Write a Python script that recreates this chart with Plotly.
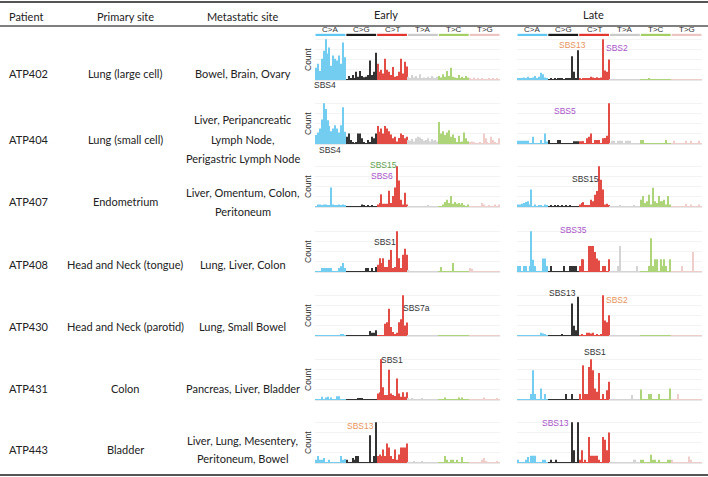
import plotly.graph_objects as go

W, H = 708, 477

patients = ["ATP402", "ATP404", "ATP407", "ATP408", "ATP430", "ATP431", "ATP443"]
primary_sites = ["Lung (large cell)", "Lung (small cell)", "Endometrium", "Head and Neck (tongue)",
                 "Head and Neck (parotid)", "Colon", "Bladder"]
metastatic_sites = [["Bowel, Brain, Ovary"],
                    ["Liver, Peripancreatic", "Lymph Node,", "Perigastric Lymph Node"],
                    ["Liver, Omentum, Colon,", "Peritoneum"],
                    ["Lung, Liver, Colon"],
                    ["Lung, Small Bowel"],
                    ["Pancreas, Liver, Bladder"],
                    ["Liver, Lung, Mesentery,", "Peritoneum, Bowel"]]
mut_types = ["C>A", "C>G", "C>T", "T>A", "T>C", "T>G"]
strip_colors = ["#5EC8F2", "#1a1a1a", "#E2362F", "#CACACA", "#A3CF65", "#ECC5C3"]
bar_palette = ["#72CDF1", "#333333", "#E24C45", "#D4D4D4", "#AED47A", "#EFCDCB"]

# relative counts, 96 channels (6 mutation types x 16 trinucleotide contexts)
atp402_early = ([30,40,22,52,72,100,65,80,35,60,52,48,60,40,92,56] + [2,10,4,12,4,20,8,22,10,7,8,12,48,12,20,67] +
                [40,20,25,16,52,25,20,12,32,8,10,20,52,16,45,33] + [8,5,12,6,10,4,14,5,6,3,8,4,10,6,5,8] +
                [10,6,14,8,22,10,30,8,6,4,12,5,8,3,10,6] + [3,2,6,2,4,1,3,2,2,1,4,1,3,1,5,2])
atp402_late = ([4,3,5,6,3,8,5,4,6,10,5,8,18,14,6,3] + [2,3,1,3,2,3,4,3,2,4,3,4,58,20,5,73] +
               [3,2,4,3,5,4,8,6,4,7,5,6,100,23,20,50] + [2,1,2,1,2,1,1,2,1,1,2,1,1,2,1,1] +
               [1,2,1,1,3,1,2,1,1,1,1,2,1,1,1,1] + [1,1,1,2,1,1,1,1,1,2,1,1,1,1,1,2])
atp404_early = ([22,28,38,60,100,86,58,44,31,38,46,38,28,46,90,30] + [18,26,10,3,2,4,26,26,14,3,2,10,4,18,14,26] +
                [44,30,38,26,44,38,31,23,14,18,6,15,26,22,14,18] + [10,8,12,6,14,18,16,12,8,10,14,6,12,8,10,6] +
                [54,26,31,22,28,34,18,23,15,5,20,4,6,28,14,7] + [4,6,3,2,2,3,2,26,14,3,2,18,10,3,2,14])
atp404_late = ([8,8,8,8,8,8,2,2,18,2,2,2,10,2,26,6] + [10,2,2,2,2,10,10,2,1,2,2,2,2,7,7,7] +
               [7,7,7,2,14,18,26,2,10,10,10,2,14,15,20,100] + [2,8,8,2,8,8,8,2,8,8,8,2,2,2,2,2] +
               [10,10,2,2,2,2,2,2,2,2,2,2,2,10,2,2] + [2,8,2,2,2,2,2,8,2,2,8,2,2,2,8,2])
atp407_early = ([2,6,6,3,6,6,3,3,48,6,4,4,6,4,6,4] + [1,1,1,1,1,1,1,1,6,4,1,4,1,3,1,2] +
                [6,10,31,8,8,8,40,10,27,48,100,65,18,6,35,6] + [2,1,1,2,1,1,1,1,1,1,3,1,1,1,1,1] +
                [2,2,6,12,18,10,27,8,12,8,10,6,10,4,2,6] + [1,1,1,1,1,1,10,6,1,1,3,1,1,6,1,6])
atp407_late = ([6,6,8,10,12,14,6,43,2,6,2,4,4,2,6,4] + [1,3,1,3,1,3,1,3,1,3,1,3,1,2,1,2] +
               [6,10,12,5,4,4,18,14,30,39,100,67,43,6,8,4] + [1,1,1,1,1,3,1,1,1,1,1,1,3,1,1,1] +
               [18,27,10,14,30,6,47,14,10,27,14,14,18,6,27,6] + [1,1,1,1,1,1,1,8,1,1,6,1,1,1,6,1])
atp408_early = ([1,1,1,10,10,10,10,10,10,1,1,1,10,14,22,10] + [1,1,1,1,1,1,1,1,1,1,10,10,1,10,1,12] +
                [18,34,22,34,12,12,30,54,10,12,100,34,10,42,57,42] + [4,1,1,1,1,1,1,1,1,1,1,1,1,1,1,1] +
                [1,12,1,1,1,1,1,22,1,1,1,1,1,1,1,1] + [10,8,1,1,1,1,1,1,1,1,1,1,1,1,1,1])
atp408_late = ([15,15,1,15,15,1,15,100,30,15,1,1,1,33,33,15] + [1,15,1,1,1,1,1,1,15,1,1,15,15,15,15,1] +
               [15,31,31,1,1,64,64,64,49,33,28,1,15,15,1,31] + [1,1,1,1,15,64,1,1,1,1,1,1,1,1,15,1] +
               [1,1,1,1,15,83,15,31,31,1,31,15,31,15,1,31] + [1,1,1,1,1,15,1,1,1,1,1,49,1,1,1,1])
atp430_early = ([2,2,2,2,2,2,2,2,2,2,2,2,2,5,4,2] + [1,1,1,1,1,1,1,1,1,1,1,1,12,8,8,14] +
                [2,2,2,2,30,34,67,22,10,4,8,34,41,100,26,33] + [1,1,1,1,1,1,1,1,1,1,1,1,1,1,1,1] +
                [1,1,2,1,1,1,1,1,1,2,1,1,1,1,1,1] + [1,1,1,1,1,1,1,1,1,1,1,1,1,1,1,1])
atp430_late = ([1,1,1,1,1,1,1,1,1,1,1,1,8,6,3,1] + [1,1,1,1,1,1,1,3,1,1,2,1,80,25,14,96] +
               [1,3,1,1,8,8,6,8,1,3,1,3,100,38,34,51] + [1,1,1,1,1,1,1,1,1,1,1,1,1,1,1,1] +
               [1,1,1,1,1,1,1,1,1,1,1,1,1,1,1,1] + [1,1,1,1,1,1,1,1,1,1,1,1,1,1,1,1])
atp431_early = ([1,1,1,8,1,6,8,1,6,1,1,9,9,1,1,1] + [1,1,1,1,1,1,3,3,3,1,1,1,1,1,1,1] +
                [16,19,100,31,12,12,74,16,12,10,53,16,8,19,8,19] + [3,1,3,1,1,1,1,3,1,1,1,1,1,1,1,1] +
                [1,1,1,6,1,1,1,1,1,1,6,1,6,1,1,1] + [1,1,1,1,1,1,1,6,1,1,1,1,1,1,4,1])
atp431_late = ([1,1,1,1,1,1,1,15,73,15,1,1,28,1,15,1] + [1,1,1,1,1,1,1,1,1,15,1,1,15,1,1,1] +
               [15,2,85,15,15,81,100,73,28,20,66,1,15,1,24,45] + [1,1,1,1,1,1,1,1,1,1,1,12,1,1,1,1] +
               [26,1,1,1,15,15,1,1,1,15,1,1,1,1,1,28] + [1,1,1,15,1,1,1,1,1,1,1,1,1,1,1,1])
atp443_early = ([8,17,8,8,12,1,1,8,1,1,1,1,1,17,8,10] + [8,1,1,12,8,17,17,1,1,1,1,1,68,1,17,100] +
                [17,21,17,33,17,48,38,17,10,33,8,21,38,38,38,48] + [2,1,1,4,1,1,1,4,1,1,1,1,1,1,1,1] +
                [1,1,1,17,8,1,8,8,1,8,1,1,15,1,1,1] + [1,1,1,1,1,1,8,12,4,1,1,1,1,1,4,1])
atp443_late = ([8,1,1,1,8,15,1,18,18,18,1,1,1,8,8,1] + [1,8,1,1,8,1,1,1,1,1,1,1,100,31,1,100] +
               [8,31,1,8,1,64,18,18,18,18,8,1,64,57,31,75] + [1,1,1,1,1,1,1,1,1,1,1,1,8,8,1,1] +
               [8,8,1,1,1,20,8,8,1,8,1,1,1,1,8,8] + [8,1,1,1,1,1,1,1,1,16,8,1,1,1,1,1])

early_series = [atp402_early, atp404_early, atp407_early, atp408_early, atp430_early, atp431_early, atp443_early]
late_series = [atp402_late, atp404_late, atp407_late, atp408_late, atp430_late, atp431_late, atp443_late]

# signature labels: (row, panel, text, color, x_px, y_px)
sig_labels = [
    (0, "early", "SBS4", "#333333", 325, 85),
    (0, "late", "SBS13", "#E8935A", 572, 45),
    (0, "late", "SBS2", "#A855C8", 617, 48),
    (1, "early", "SBS4", "#333333", 330, 150),
    (1, "late", "SBS5", "#A855C8", 565, 111),
    (2, "early", "SBS15", "#5E9E4F", 383, 165),
    (2, "early", "SBS6", "#A855C8", 382, 176.5),
    (2, "late", "SBS15", "#333333", 585, 179),
    (3, "early", "SBS1", "#333333", 385, 242),
    (3, "late", "SBS35", "#A855C8", 573, 230),
    (4, "early", "SBS7a", "#333333", 416, 308),
    (4, "late", "SBS13", "#333333", 562, 293),
    (4, "late", "SBS2", "#E8935A", 617, 300),
    (5, "early", "SBS1", "#333333", 392, 360),
    (5, "late", "SBS1", "#333333", 595, 352),
    (6, "early", "SBS13", "#E8935A", 360, 426),
    (6, "late", "SBS13", "#A855C8", 555, 423),
]

# ---- geometry (pixels) ----
def px(x):
    return x / W

def py(y):
    return 1 - y / H

row_center = [73, 139, 201, 264, 326, 388, 449]
meta_lines_y = [[73], [120, 139, 158], [192, 211], [264], [326], [388], [440, 458]]
baselines = [80, 144, 207, 272, 336, 400, 463]
plot_h = 42
early_x = (315, 500)
late_x = (517, 702)

bar_colors = []
for c in bar_palette:
    bar_colors += [c] * 16

fig = go.Figure()
layout = dict(width=W, height=H, margin=dict(l=0, r=0, t=0, b=0),
              paper_bgcolor="white", plot_bgcolor="white", showlegend=False, bargap=0.45)

k = 0
for r in range(7):
    for panel, series, (x0, x1) in (("early", early_series, early_x), ("late", late_series, late_x)):
        k += 1
        sfx = "" if k == 1 else str(k)
        fig.add_trace(go.Bar(x=list(range(96)), y=series[r][:], marker=dict(color=bar_colors, line=dict(width=0)),
                             xaxis="x" + sfx, yaxis="y" + sfx, hoverinfo="y"))
        b = baselines[r]
        layout["xaxis" + sfx] = dict(domain=[px(x0), px(x1)], range=[-0.5, 95.5], showticklabels=False,
                                     showgrid=False, zeroline=False, showline=True, linecolor="#e8e8e8",
                                     linewidth=1, anchor="y" + sfx, fixedrange=True)
        layout["yaxis" + sfx] = dict(domain=[py(b), py(b - plot_h)], range=[0, 103], showticklabels=False,
                                     showgrid=True, gridcolor="#f3f3f3", gridwidth=1, dtick=25, zeroline=False,
                                     anchor="x" + sfx, fixedrange=True)

annotations = []
shapes = []

def txt(x, y, s, size=11, color="#222222", family="Lato", xanchor="center", angle=0):
    annotations.append(dict(x=px(x), y=py(y), xref="paper", yref="paper", text=s, showarrow=False,
                            xanchor=xanchor, yanchor="middle", textangle=angle,
                            font=dict(size=size, color=color, family=family)))

# table lines
for y, w in ((2, 2), (26, 1.5), (475, 2)):
    shapes.append(dict(type="line", xref="paper", yref="paper", x0=0, x1=1, y0=py(y), y1=py(y),
                       line=dict(color="#555555", width=w)))

# headers
txt(7, 17, "Patient", xanchor="left")
txt(125, 17, "Primary site")
txt(243, 17, "Metastatic site")
txt(386, 15, "Early")
txt(593, 15, "Late")

# rows
for r in range(7):
    txt(7, row_center[r], patients[r], xanchor="left")
    txt(125, row_center[r], primary_sites[r])
    for line, yy in zip(metastatic_sites[r], meta_lines_y[r]):
        txt(243, yy, line)
    txt(308, baselines[r] - 20, "Count", size=8.5, color="#333333", family="Liberation Sans", angle=-90)

# mutation type strips and labels
for (x0, x1) in (early_x, late_x):
    seg = (x1 - x0) / 6
    for i, (m, c) in enumerate(zip(mut_types, strip_colors)):
        a = x0 + i * seg + 0.5
        bnd = x0 + (i + 1) * seg - 0.5
        shapes.append(dict(type="rect", xref="paper", yref="paper", x0=px(a), x1=px(bnd),
                           y0=py(36), y1=py(33.8), fillcolor=c, line=dict(width=0)))
        txt((a + bnd) / 2, 30, m, size=8, color="#333333", family="Liberation Sans")

for (r, panel, s, c, x, y) in sig_labels:
    txt(x, y, s, size=8.5, color=c, family="Liberation Sans")

layout["annotations"] = annotations
layout["shapes"] = shapes
fig.update_layout(**layout)
fig.write_html("out.html")
